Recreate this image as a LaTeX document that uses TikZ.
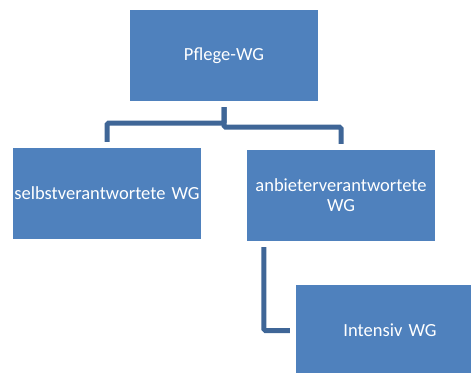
\documentclass[tikz,border=0pt]{standalone}
\usepackage{fontspec}
\setmainfont{Carlito}
\definecolor{boxblue}{HTML}{4F81BD}
\definecolor{lineblue}{HTML}{3F6697}
\newcommand{\wgfont}{\fontsize{18.5}{20}\selectfont}

\begin{document}
\begin{tikzpicture}[x=1pt,y=-1pt,
   wgbox/.style={fill=boxblue, text=white, minimum width=188pt, minimum height=91pt,
                 text width=188pt, align=center, inner sep=0pt, font=\wgfont},
   link/.style={draw=lineblue, line width=5pt, rounded corners=1.5pt}]

 \useasboundingbox (0,0) rectangle (471,372);
 \clip (0,0) rectangle (471,372);

   \node[wgbox] (pflege) at (224,55.5) {Pflege-WG};
   \node[wgbox] (selbst) at (107,193.5) {selbstverantwortete WG};
   \node[wgbox] (anbieter) at (341,195.5) {anbieterverantwortete\\WG};
   \node[wgbox] (intensiv) at (390,330.5) {Intensiv WG};

   \draw[link] ([yshift=-6pt]pflege.south) -- ++(0,16) -| ([yshift=6pt]selbst.north);
   \draw[link] ([yshift=-6pt]pflege.south) -- ++(0,20) -| ([yshift=6pt]anbieter.north);
   \draw[link] ([xshift=17pt,yshift=-6pt]anbieter.south west) |- ([xshift=-6pt]intensiv.west);

 \end{tikzpicture}
\end{document}
